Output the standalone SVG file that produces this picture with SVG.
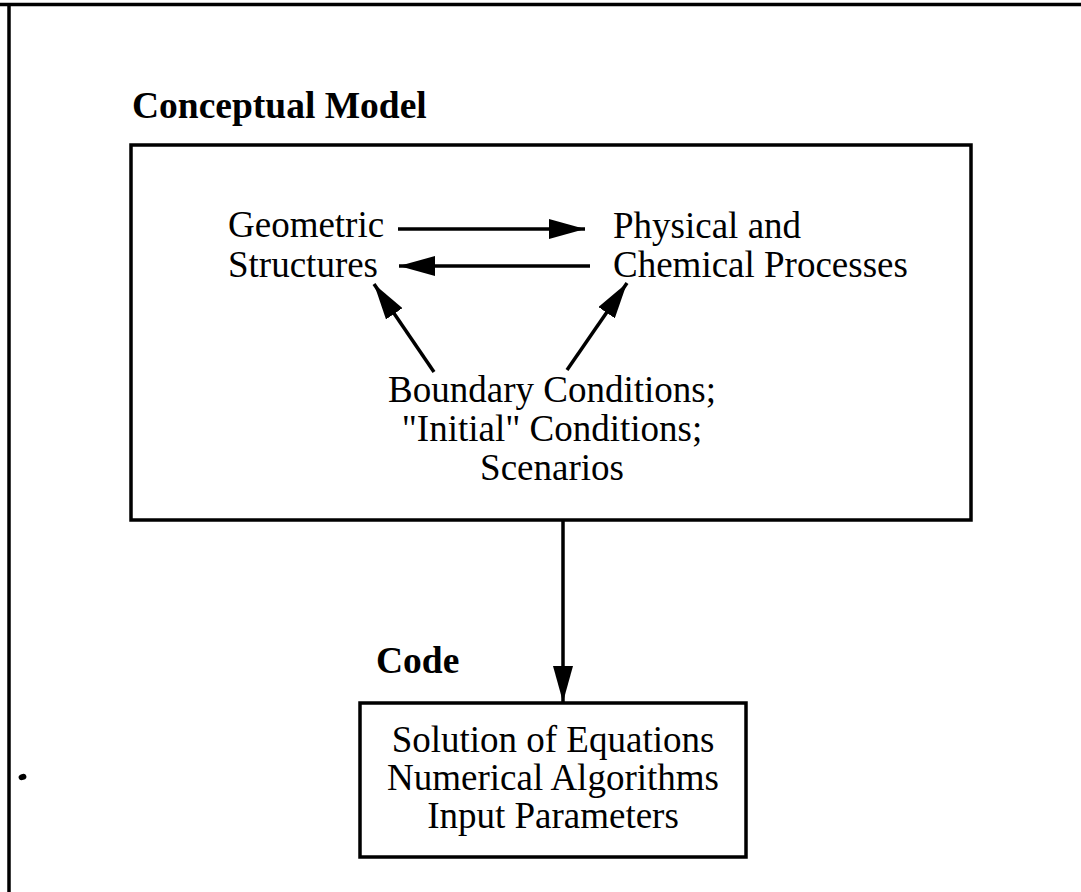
<svg xmlns="http://www.w3.org/2000/svg" width="1081" height="892" viewBox="0 0 1081 892">
<style>
.t{font-family:"Liberation Serif","Times New Roman",serif;font-size:37px;fill:#000}
.h{font-family:"Liberation Serif","Times New Roman",serif;font-size:37.5px;font-weight:bold;fill:#000}
.box{fill:none;stroke:#000;stroke-width:3.5}
.ln{stroke:#000;stroke-width:3.5;fill:none}
</style>
<defs>
<marker id="ah" viewBox="0 0 36 20" refX="36" refY="10" markerWidth="36" markerHeight="20" markerUnits="userSpaceOnUse" orient="auto">
<path d="M0,0 L36,10 L0,20 Z" fill="#000"/>
</marker>
</defs>
<rect width="1081" height="892" fill="#fff"/>
<g id="frame">
<line x1="0" y1="4.5" x2="1081" y2="4.5" class="ln"/>
<line x1="9" y1="3" x2="9" y2="892" class="ln"/>
<ellipse cx="22.5" cy="777" rx="4" ry="3" transform="rotate(-20 22.5 777)" fill="#000"/>
</g>
<g id="conceptual-model">
<text class="h" x="132" y="118">Conceptual Model</text>
<rect class="box" x="131" y="145" width="840" height="375"/>
</g>
<g id="geometric">
<text class="t" x="228" y="237">Geometric</text>
<text class="t" x="228" y="277">Structures</text>
</g>
<g id="physical">
<text class="t" x="613" y="238">Physical and</text>
<text class="t" x="613" y="277">Chemical Processes</text>
</g>
<g id="boundary">
<text class="t" x="552" y="402" text-anchor="middle">Boundary Conditions;</text>
<text class="t" x="552" y="441" text-anchor="middle">"Initial" Conditions;</text>
<text class="t" x="552" y="480" text-anchor="middle">Scenarios</text>
</g>
<g id="code">
<text class="h" x="376" y="673">Code</text>
<rect class="box" x="360" y="703" width="386" height="154"/>
<text class="t" x="553" y="752" text-anchor="middle">Solution of Equations</text>
<text class="t" x="553" y="790" text-anchor="middle">Numerical Algorithms</text>
<text class="t" x="553" y="828" text-anchor="middle">Input Parameters</text>
</g>
<g id="connectors">
<line class="ln" x1="398" y1="229" x2="585" y2="229" marker-end="url(#ah)"/>
<line class="ln" x1="590" y1="266" x2="399" y2="266" marker-end="url(#ah)"/>
<line class="ln" x1="434" y1="372" x2="374" y2="284" marker-end="url(#ah)"/>
<line class="ln" x1="567" y1="370" x2="627" y2="283" marker-end="url(#ah)"/>
<line class="ln" x1="563" y1="520" x2="563" y2="702" marker-end="url(#ah)"/>
</g>
</svg>
